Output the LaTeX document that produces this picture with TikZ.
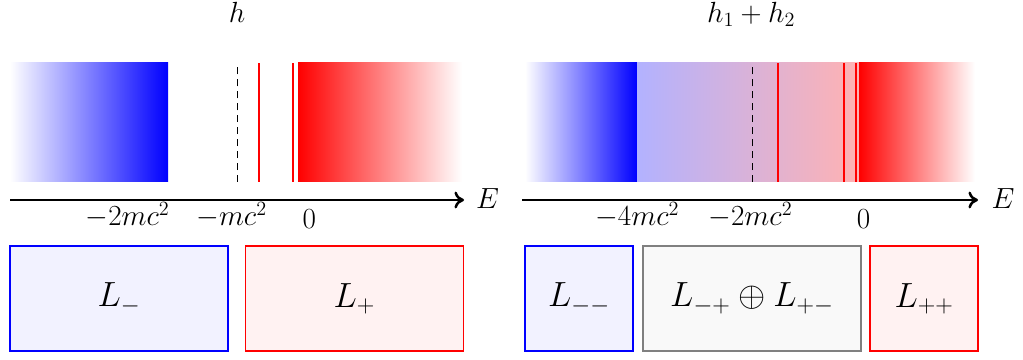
\documentclass[tikz,border=0pt]{standalone}
\usepackage{amsmath}
\usepackage{amssymb}
\usepackage{xcolor}
\usepackage{tikz}
\usetikzlibrary{arrows.meta,positioning}
\newcommand{\bigtxt}{\fontsize{21.6}{26}\selectfont}
\newcommand{\boxtxt}{\fontsize{24}{29}\selectfont}
\tikzset{
  negbox/.style={draw=blue, line width=1.1pt, fill=blue!5, minimum width=5.45cm, minimum height=2.62cm, align=center, font=\boxtxt},
  posbox/.style={draw=red, line width=1.1pt, fill=red!5, minimum width=5.45cm, minimum height=2.62cm, align=center, font=\boxtxt},
  mixbox/.style={draw=gray, line width=1.1pt, fill=gray!5, minimum width=5.45cm, minimum height=2.62cm, align=center, font=\boxtxt},
  axis/.style={-{Computer Modern Rightarrow[length=2.4mm, width=4.2mm]}, line width=1.8pt},
  level/.style={red, line width=1.1pt},
  sublevel/.style={red, line width=0.8pt},
  mass/.style={dash pattern=on 5pt off 3.5pt, line width=0.7pt},
  tick/.style={font=\bigtxt},
  title/.style={font=\bigtxt}
}
\begin{document}
\begin{tikzpicture}[x=1cm,y=1cm]
  \useasboundingbox (0,0) rectangle (25.575,8.975);

  % left spectrum: h
  \shade[left color=white, right color=blue] (0.25,4.425) rectangle (4.2,7.4);
  \shade[left color=red, right color=white] (7.45,4.425) rectangle (11.55,7.4);
  \draw[mass] (5.925,4.425) -- (5.925,7.4);
  \draw[level] (6.475,4.425) -- (6.475,7.4);
  \draw[sublevel] (7.325,4.425) -- (7.325,7.4);

  \node[title] (hL) at (5.925,8.66) {$h$};
  \coordinate (axL0) at (0.25,3.975);
  \coordinate (axL1) at (11.6,3.975);
  \draw[axis] (axL0) -- (axL1);
  \node[title] (eL) at (12.19,4.0) {$E$};
  \node[tick] (tL1) at (3.19,3.6) {$-2mc^2$};
  \node[tick] (tL2) at (5.79,3.6) {$-mc^2$};
  \node[tick] (tL3) at (7.73,3.5) {$0$};

  \node[negbox] (Lm) at (2.975,1.51) {$L_-$};
  \node[posbox] (Lp) at (8.86,1.51) {$L_+$};

  % right spectrum: h1 + h2
  \shade[left color=white, right color=blue] (13.125,4.425) rectangle (15.925,7.4);
  \shade[left color=blue!30, right color=red!30] (15.925,4.425) rectangle (21.475,7.4);
  \shade[left color=red, right color=white] (21.475,4.425) rectangle (24.375,7.4);
  \draw[mass] (18.8,4.425) -- (18.8,7.4);
  \draw[level] (19.45,4.425) -- (19.45,7.4);
  \draw[sublevel] (21.1,4.425) -- (21.1,7.4);
  \draw[sublevel] (21.4,4.425) -- (21.4,7.4);

  \node[title] (hR) at (18.78,8.62) {$h_1 + h_2$};
  \coordinate (axR0) at (13.05,3.975);
  \coordinate (axR1) at (24.45,3.975);
  \draw[axis] (axR0) -- (axR1);
  \node[title] (eR) at (25.075,4.0) {$E$};
  \node[tick] (tR1) at (15.93,3.6) {$-4mc^2$};
  \node[tick] (tR2) at (18.76,3.6) {$-2mc^2$};
  \node[tick] (tR3) at (21.59,3.5) {$0$};

  \node[negbox, minimum width=2.7cm] (Lmm) at (14.475,1.51) {$L_{--}$};
  \node[mixbox] (Lmix) at (18.8,1.51) {$L_{-+} \oplus L_{+-}$};
  \node[posbox, minimum width=2.7cm] (Lpp) at (23.1,1.51) {$L_{++}$};
\end{tikzpicture}
\end{document}
